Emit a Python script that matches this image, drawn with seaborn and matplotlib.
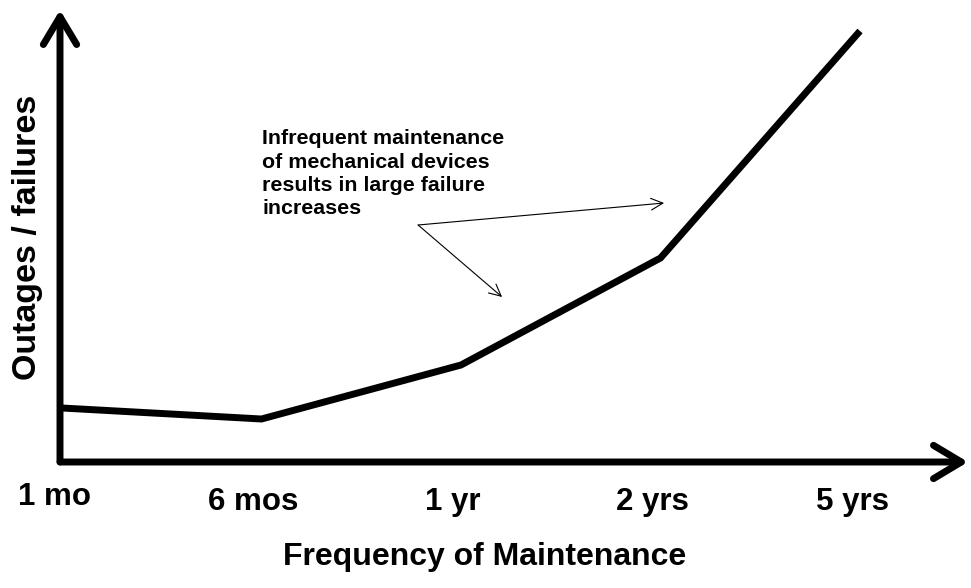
import numpy as np
import pandas as pd
import matplotlib
matplotlib.use("Agg")
import matplotlib.pyplot as plt
import matplotlib.transforms as mtransforms
import seaborn as sns

# ---- data -------------------------------------------------------------
frequency_labels = ["1 mo", "6 mos", "1 yr", "2 yrs", "5 yrs"]
outages = [5.4, 4.3, 9.7, 20.4, 43.1]          # relative outages / failures
x_title = "Frequency of Maintenance"
y_title = "Outages / failures"
note_text = ("Infrequent maintenance\nof mechanical devices\n"
             "results in large failure\nincreases")

# ---- style --------------------------------------------------------------
sns.set_theme(style="white")
plt.rcParams["font.family"] = ["Liberation Sans", "DejaVu Sans"]
plt.rcParams["text.color"] = "black"
plt.rcParams["axes.labelcolor"] = "black"

W, H = 971, 588
fig = plt.figure(figsize=(W / 100, H / 100), dpi=100)
ox, oy, right, top = 60, 462, 968, 10
ax = fig.add_axes([ox / W, (H - oy) / H, (right - ox) / W, (oy - top) / H])

df = pd.DataFrame({"pos": np.arange(len(frequency_labels)),
                   "outages": outages})
sns.lineplot(data=df, x="pos", y="outages", color="black", linewidth=5,
             ax=ax, solid_joinstyle="miter", solid_capstyle="butt",
             clip_on=False)

step = 199.5
ax.set_xlim((ox - 62) / step, (right - 62) / step)
ax.set_ylim(0, (oy - top) / 10)
ax.set_xticks([])
ax.set_yticks([])
for s in ax.spines.values():
    s.set_visible(False)

# axis arrows
axis_arrow = dict(arrowstyle="->,head_length=0.5,head_width=0.3", lw=5,
                  color="black", mutation_scale=40, shrinkA=0, shrinkB=0,
                  capstyle="round", joinstyle="round")
ax.annotate("", xy=(0, 1), xytext=(0, 0), xycoords="axes fraction",
            textcoords="axes fraction", arrowprops=axis_arrow,
            annotation_clip=False)
ax.annotate("", xy=(1, 0), xytext=(0, 0), xycoords="axes fraction",
            textcoords="axes fraction", arrowprops=axis_arrow,
            annotation_clip=False)

# tick labels
offset = mtransforms.ScaledTranslation(-8 / 100, 0, fig.dpi_scale_trans)
trans = mtransforms.blended_transform_factory(ax.transData, ax.transAxes) + offset
for i, lab in enumerate(frequency_labels):
    ax.text(i, -0.0774 if i == 0 else -0.0885, lab, transform=trans,
            ha="center", va="center", fontsize=22.5, fontweight="bold",
            color="black")

ax.set_xlabel(x_title, fontsize=23, fontweight="bold", color="black")
ax.xaxis.set_label_coords(0.468, -0.178)
ax.set_ylabel(y_title, fontsize=24.5, fontweight="bold", color="black")
ax.yaxis.set_label_coords(-0.019, 0.497)

# annotation
note_arrow = dict(arrowstyle="->,head_length=0.85,head_width=0.42", lw=0.8,
                  color="black", mutation_scale=10, shrinkA=0, shrinkB=0)
ax.annotate("", xy=(3.018, 25.9), xytext=(1.785, 23.7), arrowprops=note_arrow)
ax.annotate("", xy=(2.206, 16.5), xytext=(1.785, 23.7), arrowprops=note_arrow)
fig.text(262 / W, 1 - 129 / H, note_text, ha="left", va="top",
         fontsize=15.4, fontweight="bold", linespacing=1.3, color="black")

fig.savefig("out.png", dpi=100)
